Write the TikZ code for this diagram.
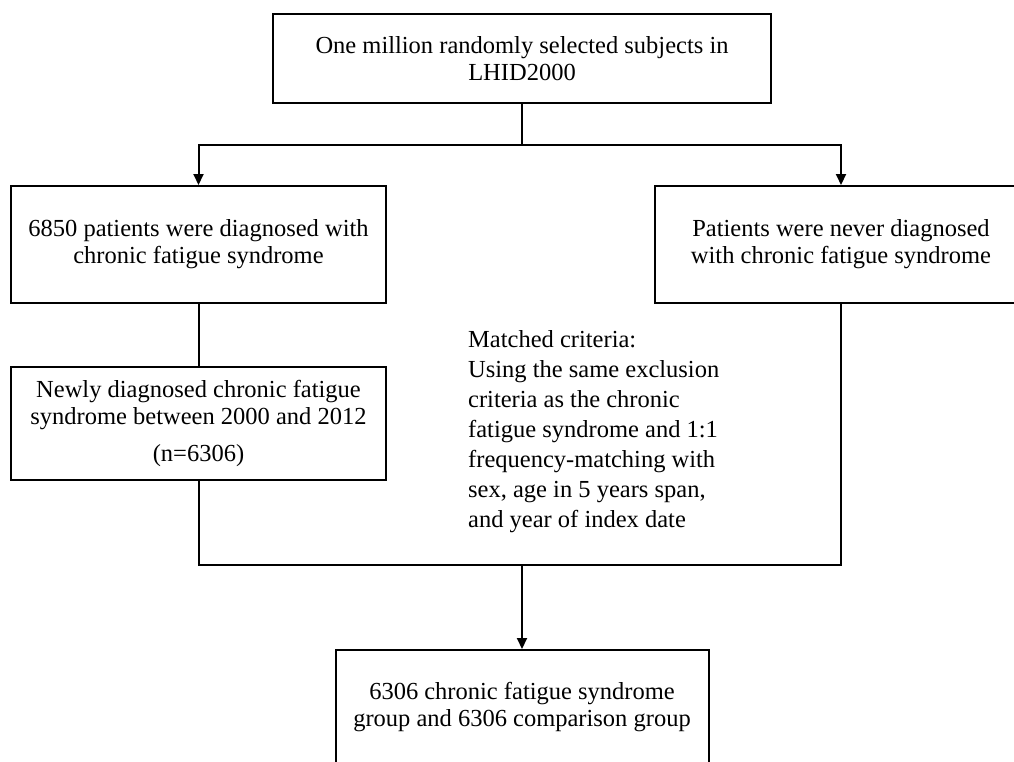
\documentclass[tikz,border=0pt]{standalone}
\usepackage{fontspec}
\setmainfont{Liberation Serif}
\usetikzlibrary{arrows.meta}
\tikzset{
  flowbox/.style={draw, line width=2pt, rectangle, inner sep=0pt, align=center,
    font=\fontsize{24.5}{27}\selectfont},
  conn/.style={line width=2pt},
  arr/.style={line width=2pt, -{Triangle[length=11pt,width=10pt]}},
}
\begin{document}
\begin{tikzpicture}[x=1pt,y=-1pt]
\useasboundingbox (0,0) rectangle (1014,761);
\clip (0,0) rectangle (1014,761);
\fill[white] (0,0) rectangle (1014,761);
\node[flowbox, minimum width=498pt, minimum height=89pt] (top) at (522,58.5)
  {One million randomly selected subjects in\\LHID2000};
\node[flowbox, minimum width=375pt, minimum height=117pt] (A) at (198.5,244.5)
  {6850 patients were diagnosed with\\chronic fatigue syndrome};
\node[flowbox, minimum width=372pt, minimum height=117pt] (B) at (841,244.5)
  {Patients were never diagnosed\\with chronic fatigue syndrome};
\node[flowbox, minimum width=375pt, minimum height=113pt] (C) at (198.5,423.5)
  {Newly diagnosed chronic fatigue\\syndrome between 2000 and 2012\\[10pt](n=6306)};
\node[flowbox, minimum width=373pt, minimum height=115pt] (D) at (522,707.5)
  {6306 chronic fatigue syndrome\\group and 6306 comparison group};
\node[anchor=west, inner sep=0pt, align=left, font=\fontsize{24.5}{30}\selectfont] (M) at (468,432)
  {Matched criteria:\\Using the same exclusion\\criteria as the chronic\\fatigue syndrome and 1:1\\frequency-matching with\\sex, age in 5 years span,\\and year of index date};
\coordinate (split) at (522,145);
\coordinate (join) at (522,565);
\draw[conn] (top.south) -- (split);
\draw[arr] (split) -| (A.north);
\draw[arr] (split) -| (B.north);
\draw[conn] (A.south) -- (C.north);
\draw[conn] (C.south) |- (join) -| (B.south);
\draw[arr] (join) -- (D.north);
\end{tikzpicture}
\end{document}
